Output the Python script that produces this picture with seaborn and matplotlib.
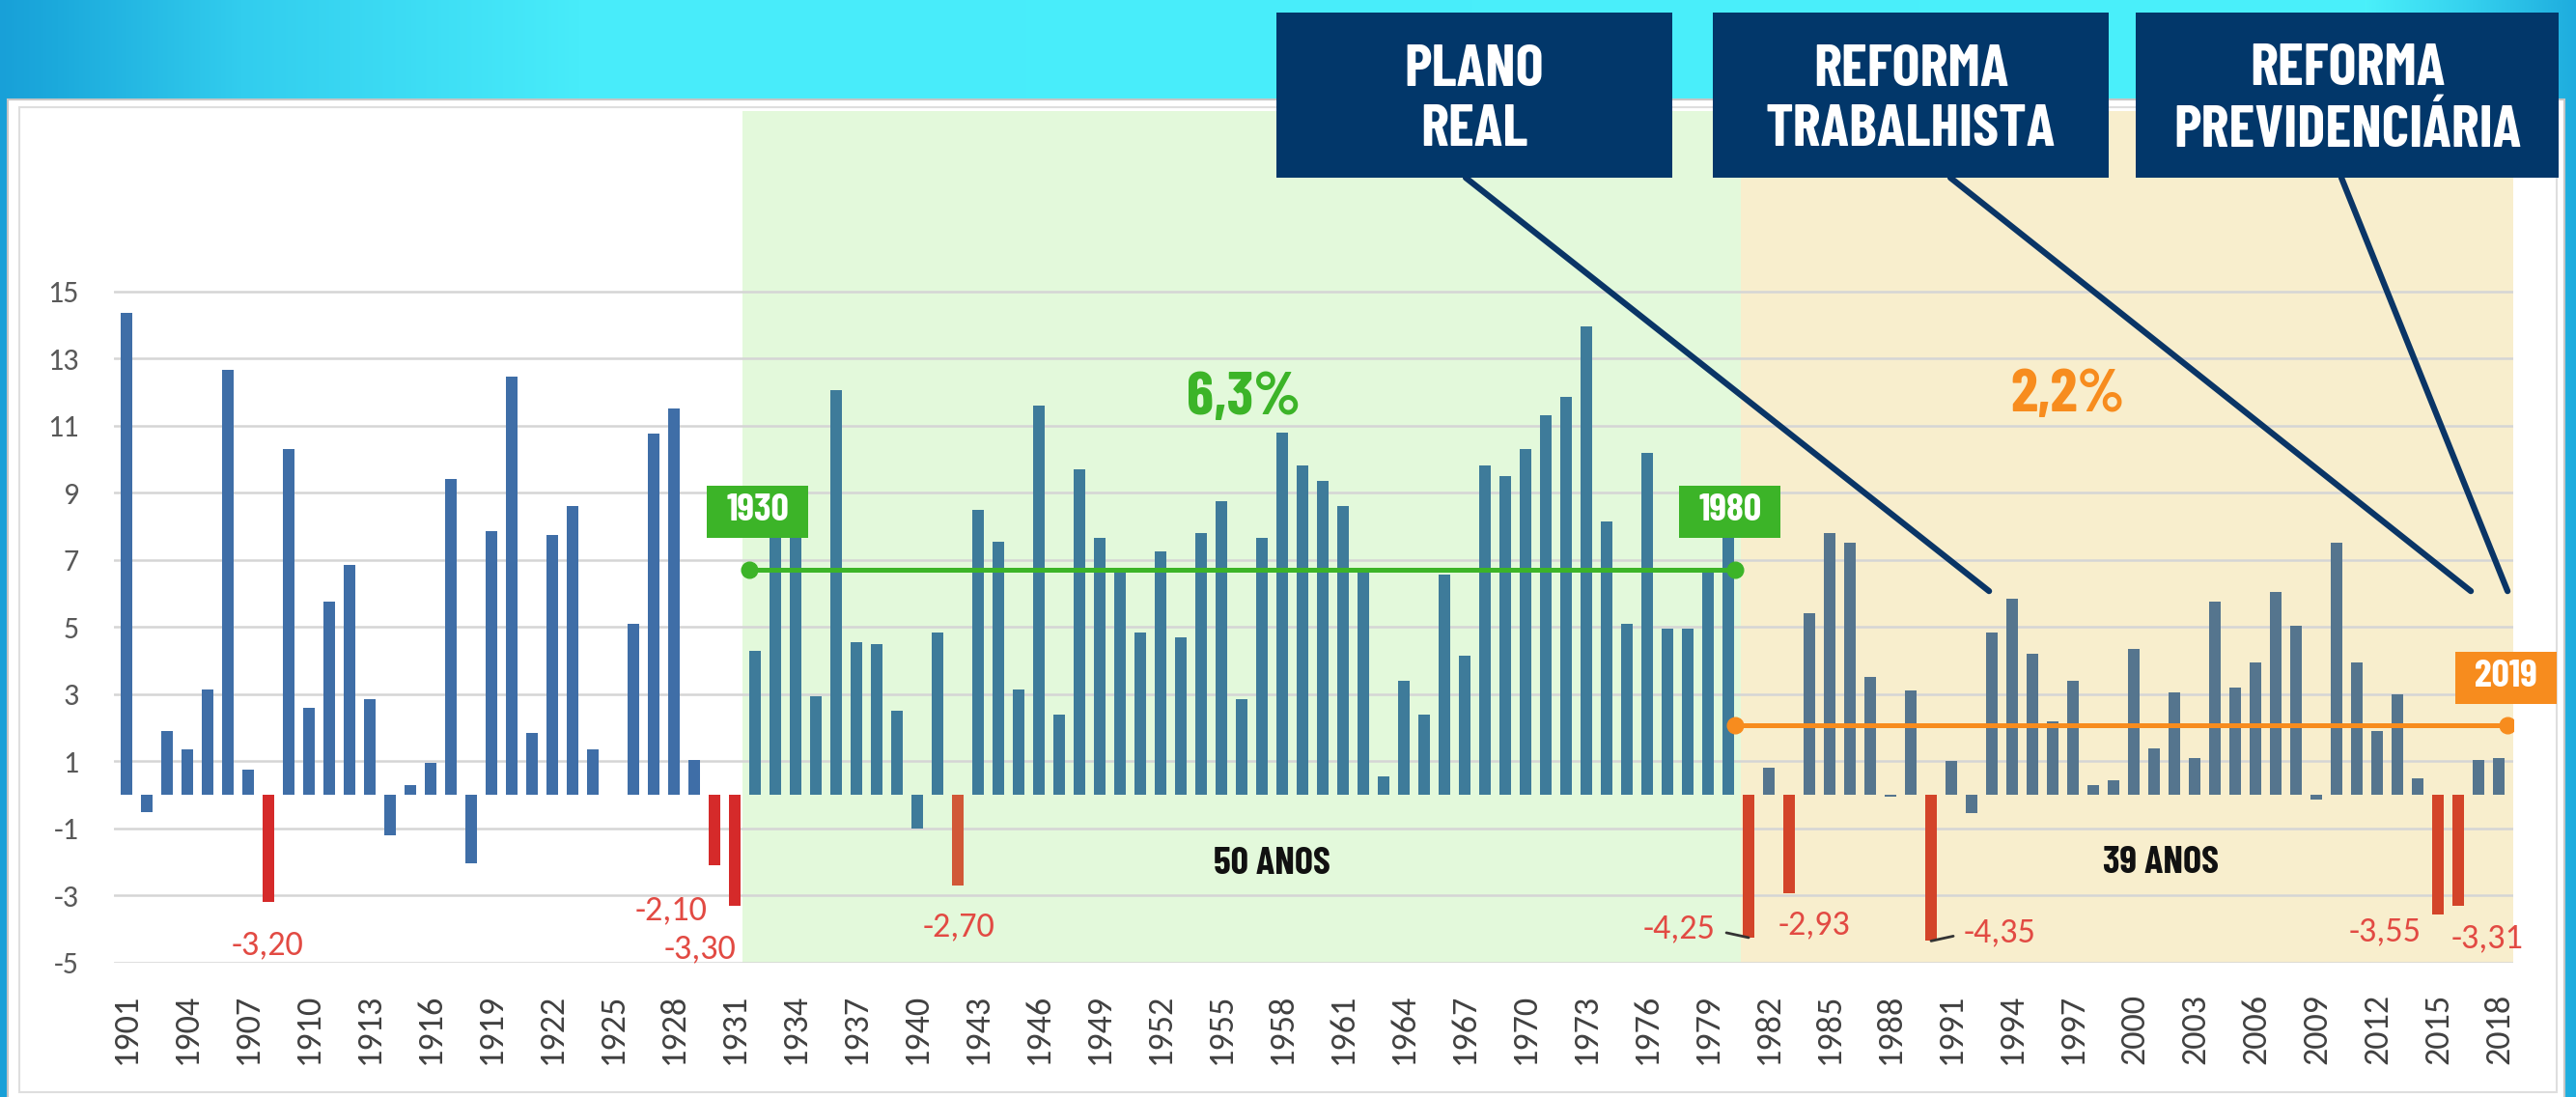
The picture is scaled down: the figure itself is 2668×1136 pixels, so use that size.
import os
import numpy as np
import pandas as pd
import matplotlib
matplotlib.use("Agg")
import matplotlib.pyplot as plt
import seaborn as sns
from matplotlib import font_manager, transforms
from matplotlib.patches import Rectangle

# Crescimento do PIB do Brasil (%), 1901-2018
anos = list(range(1901, 2019))
pib = [
    14.35, -0.5, 1.9, 1.35, 3.15, 12.65, 0.75, -3.2, 10.3, 2.6,        # 1901-1910
    5.75, 6.85, 2.85, -1.2, 0.3, 0.95, 9.4, -2.05, 7.85, 12.45,        # 1911-1920
    1.85, 7.75, 8.6, 1.35, 0.0, 5.1, 10.75, 11.5, 1.05, -2.1,          # 1921-1930
    -3.3, 4.3, 8.9, 9.2, 2.95, 12.05, 4.55, 4.5, 2.5, -1.0,            # 1931-1940
    4.85, -2.7, 8.5, 7.55, 3.15, 11.6, 2.4, 9.7, 7.65, 6.7,            # 1941-1950
    4.85, 7.25, 4.7, 7.8, 8.75, 2.85, 7.65, 10.8, 9.8, 9.35,           # 1951-1960
    8.6, 6.65, 0.55, 3.4, 2.4, 6.55, 4.15, 9.8, 9.5, 10.3,             # 1961-1970
    11.3, 11.85, 13.95, 8.15, 5.1, 10.2, 4.95, 4.95, 6.65, 9.2,        # 1971-1980
    -4.25, 0.8, -2.93, 5.4, 7.8, 7.5, 3.5, -0.06, 3.1, -4.35,          # 1981-1990
    1.0, -0.55, 4.85, 5.85, 4.2, 2.2, 3.4, 0.3, 0.45, 4.35,            # 1991-2000
    1.4, 3.05, 1.1, 5.75, 3.2, 3.95, 6.05, 5.05, -0.13, 7.5,           # 2001-2010
    3.95, 1.9, 3.0, 0.5, -3.55, -3.31, 1.05, 1.1,                      # 2011-2018
]
anos_destaque = [1908, 1930, 1931, 1942, 1981, 1983, 1990, 2015, 2016]

periodo_verde = (1931.4, 1980.6)
media_inicio = [1931.71, 1980.33]
media_fim = [1980.33, 2018.43]
media_nivel = [6.7, 2.08]
media_texto = ["6,3%", "2,2%"]
media_anos = ["50 ANOS", "39 ANOS"]
marcos = ["1930", "1980", "2019"]

reformas = ["PLANO\nREAL", "REFORMA\nTRABALHISTA", "REFORMA\nPREVIDENCIÁRIA"]
reformas_alvo_ano = [1992.86, 2016.62, 2018.43]
reformas_alvo_val = [6.07, 6.07, 6.07]

W, H = 2668, 1136
GREEN = "#3cb428"
ORANGE = "#f78c1e"
NAVY = "#02376a"

sns.set_style("white")
avail = {f.name for f in font_manager.fontManager.ttflist}
files = {os.path.basename(f.fname): f.fname for f in font_manager.fontManager.ttflist}

# fonte dos eixos: Carlito (metricas do Calibri) se existir
if "Carlito" in avail:
    BASE, fs_x, fs_y, fs_neg = "Carlito", 26, 23, 26
else:
    BASE, fs_x, fs_y, fs_neg = "Liberation Sans", 22, 21, 24
plt.rcParams["font.family"] = [BASE, "DejaVu Sans"]
plt.rcParams["axes.unicode_minus"] = False

# fonte condensada em negrito para os destaques
COND, cf = None, 0.8
for nome, fator in [("BarlowCondensed-Bold.ttf", 1.0),
                    ("RobotoCondensed-Bold.ttf", 0.9),
                    ("FiraSansExtraCondensed-Bold.ttf", 0.95),
                    ("DejaVuSansCondensed-Bold.ttf", 0.8)]:
    if nome in files:
        COND, cf = font_manager.FontProperties(fname=files[nome]), fator
        break
if COND is None:
    COND = font_manager.FontProperties(family="DejaVu Sans", weight="bold")

fig = plt.figure(figsize=(W / 100, H / 100), dpi=100)

# fundo: faixa azul em degrade + painel branco
bg = fig.add_axes([0, 0, 1, 1], zorder=-10)
gx = np.arange(W)
stops_x = [0, 60, 250, 600, 2450, 2560, 2668]
stops_c = np.array([(24, 160, 216), (28, 170, 220), (50, 205, 238), (72, 236, 250),
                    (74, 240, 250), (52, 208, 238), (30, 172, 222)]) / 255
grad = np.stack([np.interp(gx, stops_x, stops_c[:, k]) for k in range(3)], axis=-1)
bg.imshow(grad[None, :, :], extent=(0, W, H, 0), aspect="auto")
bg.add_patch(Rectangle((8, 103), 2648, 1040, fc="white", ec="#c6c6c6", lw=1.5))
bg.add_patch(Rectangle((20, 111), 2628, 1020, fc="none", ec="#dedede", lw=1.5))
bg.set_xlim(0, W)
bg.set_ylim(H, 0)
bg.axis("off")

ax = fig.add_axes([118 / W, 1 - 997 / H, (2603 - 118) / W, (997 - 115) / H])
ax.set_facecolor("none")
xmin, xmax = 1900.38, 2018.71

ax.axvspan(periodo_verde[0], periodo_verde[1], color="#e3f9db", lw=0, zorder=0.1)
ax.axvspan(periodo_verde[1], xmax, color="#f8eecd", lw=0, zorder=0.1)


def zona(ano):
    if ano < periodo_verde[0]:
        return 1
    if ano < periodo_verde[1]:
        return 2
    return 3


df = pd.DataFrame({"ano": anos, "pib": pib})
df["grupo"] = [("verm" if a in anos_destaque else "azul") + str(zona(a)) for a in anos]
pal = {"azul1": "#2e6db8", "azul2": "#2f80a9", "azul3": "#4b7698",
       "verm1": "#f20d0d", "verm2": "#ea4a1e", "verm3": "#f0300c"}

sns.barplot(data=df, x="ano", y="pib", hue="grupo", palette=pal, native_scale=True,
            dodge=False, width=0.6, errorbar=None, legend=False, linewidth=0, ax=ax)

ax.set_xlim(xmin, xmax)
ax.set_ylim(-5, 20.37)
ax.set_yticks(range(-5, 16, 2))
ax.set_xticks(range(1901, 2019, 3))
ax.grid(axis="y", color="#d5d5d5", lw=1.8)
ax.grid(axis="x", visible=False)
ax.set_axisbelow(True)
for line in ax.get_ygridlines():
    line.set_zorder(0.5)
ax.tick_params(axis="x", length=0, pad=23, labelsize=fs_x, labelcolor="#404040", labelrotation=90)
ax.tick_params(axis="y", length=0, pad=26, labelsize=fs_y, labelcolor="#595959")
ax.set_xlabel("")
ax.set_ylabel("")
for s in ax.spines.values():
    s.set_visible(False)

# linhas de media dos periodos
cores_media = [GREEN, ORANGE]
for s, e, lvl, c in zip(media_inicio, media_fim, media_nivel, cores_media):
    ax.plot([s, e], [lvl, lvl], color=c, lw=3.6, zorder=5, solid_capstyle="butt")
    ax.plot([s, e], [lvl, lvl], "o", color=c, ms=12, zorder=6)

ax.text(1956.1, 11.8, media_texto[0], color=GREEN, fontproperties=COND, fontsize=46 * cf,
        ha="center", va="center", zorder=6)
ax.text(1996.76, 11.9, media_texto[1], color=ORANGE, fontproperties=COND, fontsize=46 * cf,
        ha="center", va="center", zorder=6)
ax.text(1957.5, -2.05, media_anos[0], color="#111111", fontproperties=COND, fontsize=29 * cf,
        ha="center", va="center", zorder=6)
ax.text(2001.33, -2.02, media_anos[1], color="#111111", fontproperties=COND, fontsize=29 * cf,
        ha="center", va="center", zorder=6)

# etiquetas dos marcos
marco_pos = [(media_inicio[0], media_nivel[0]), (media_fim[0], media_nivel[0]),
             (media_fim[1], media_nivel[1])]
marco_cor = [GREEN, GREEN, ORANGE]
marco_off = [(8.5, 60), (-5, 60), (-1.5, 48.5)]
for lab, (x, y), c, (dx, up) in zip(marcos, marco_pos, marco_cor, marco_off):
    tr = fig.dpi_scale_trans + transforms.ScaledTranslation(x, y, ax.transData)
    ax.add_patch(Rectangle(((dx - 52.5) / 100, (up - 27) / 100), 1.05, 0.54,
                           transform=tr, fc=c, ec="none", clip_on=False, zorder=8))
    ax.text(dx / 100, (up + 2) / 100, lab, transform=tr, color="white", fontsize=29 * cf,
            fontproperties=COND, ha="center", va="center", zorder=9, clip_on=False)

# valores negativos em destaque
neg_off = [(-1, 44), (-45, 46), (-36, 44), (1, 42), (-72, -10), (26, 32), (71, -9),
           (-55, 18), (30, 33)]
for ano, (dx, dy) in zip(anos_destaque, neg_off):
    v = pib[anos.index(ano)]
    ax.annotate(f"{v:.2f}".replace(".", ","), xy=(ano, v), xytext=(dx * 0.72, -dy * 0.72),
                textcoords="offset points", ha="center", va="center", color="#e24a43",
                fontsize=fs_neg, zorder=7, annotation_clip=False)
    if dy < 0:
        side = -1 if dx < 0 else 1
        ax.annotate("", xy=(ano, v), xytext=(side * 23 * 0.72, 5 * 0.72),
                    textcoords="offset points",
                    arrowprops=dict(arrowstyle="-", color="#333333", lw=2, shrinkA=0, shrinkB=0),
                    zorder=7)

# caixas das reformas no topo
box_x = [(1322, 1732), (1774, 2184), (2212, 2650)]
start_x = [1518, 2020, 2425]
for lab, (x0, x1), sx, ya, va_ in zip(reformas, box_x, start_x, reformas_alvo_ano, reformas_alvo_val):
    ax.annotate("", xy=(ya, va_), xycoords="data", xytext=(sx / W, 1 - 184 / H),
                textcoords="figure fraction", annotation_clip=False,
                arrowprops=dict(arrowstyle="-", color="#0a3566", lw=4.5, shrinkA=0, shrinkB=0))
    fig.add_artist(Rectangle((x0 / W, 1 - 184 / H), (x1 - x0) / W, 171 / H,
                             transform=fig.transFigure, fc=NAVY, ec="none", zorder=10))
    fig.text((x0 + x1) / 2 / W, 1 - 104 / H, lab, ha="center", va="center", color="white",
             fontproperties=COND, fontsize=44 * cf, linespacing=1.2, zorder=11)

fig.savefig("out.png", dpi=100)
